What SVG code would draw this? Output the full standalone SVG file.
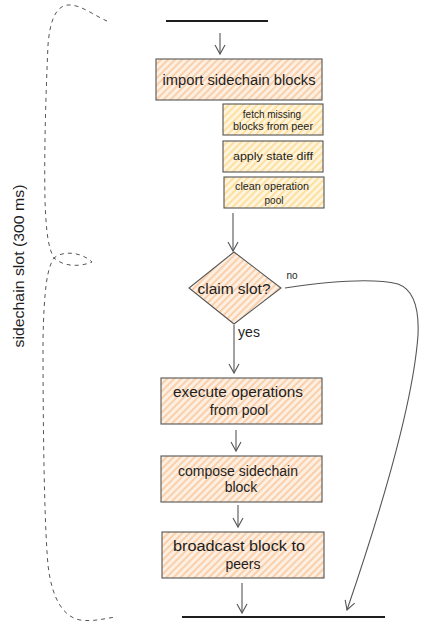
<svg xmlns="http://www.w3.org/2000/svg" width="423" height="626" viewBox="0 0 423 626">
<defs>
<pattern id="hOrange" patternUnits="userSpaceOnUse" width="5" height="5" patternTransform="rotate(45)">
<rect width="5" height="5" fill="#fdefe2"/>
<line x1="1" y1="0" x2="1" y2="5" stroke="#f9bf8e" stroke-width="1.3"/>
</pattern>
<pattern id="hYellow" patternUnits="userSpaceOnUse" width="5" height="5" patternTransform="rotate(45)">
<rect width="5" height="5" fill="#fff5de"/>
<line x1="1" y1="0" x2="1" y2="5" stroke="#fcd47e" stroke-width="1.3"/>
</pattern>
<marker id="arr" markerUnits="userSpaceOnUse" markerWidth="14" markerHeight="14" refX="11" refY="7" orient="auto">
<path d="M2,2 L11,7 L2,12" fill="none" stroke="#555" stroke-width="1.1"/>
</marker>
</defs>
<style>
.box{stroke:#555;stroke-width:1.1}
.o{fill:url(#hOrange)}
.y{fill:url(#hYellow)}
.t{font-family:"Liberation Sans",Arial,sans-serif;font-size:14px;fill:#1e1e1e;text-anchor:middle}
.s{font-family:"Liberation Sans",Arial,sans-serif;font-size:10px;fill:#1e1e1e;text-anchor:middle}
.c{fill:none;stroke:#555;stroke-width:1.1}
.bar{stroke:#1e1e1e;stroke-width:2;fill:none}
</style>

<g id="brace">
<path d="M107,21 C95,16 80,4 68,5 C56,6 50,20 48,45 C46,90 44,150 45,200 C46,230 48,248 54,258 C62,251 80,251 92,262 C80,267 64,267 54,258 C47,268 44,290 43,340 C43,420 44,520 48,565 C52,600 64,617 80,620 C95,622 105,618 117,617" fill="none" stroke="#555" stroke-width="1" stroke-dasharray="4 4"/>
<text class="t" transform="translate(24,266) rotate(-90)" textLength="163" lengthAdjust="spacingAndGlyphs">sidechain slot (300 ms)</text>
</g>

<g id="start-bar"><line class="bar" x1="166" y1="21" x2="268" y2="21"/></g>
<g id="end-bar"><line class="bar" x1="182" y1="617" x2="385" y2="617"/></g>

<g id="import">
<rect class="box o" x="156" y="59" width="166" height="41"/>
<text class="t" x="239" y="85" textLength="153" lengthAdjust="spacingAndGlyphs">import sidechain blocks</text>
</g>
<g id="fetch">
<rect class="box y" x="223" y="104" width="100" height="31"/>
<text class="s" x="272" y="118">fetch missing</text>
<text class="s" x="273" y="130" textLength="80" lengthAdjust="spacingAndGlyphs">blocks from peer</text>
</g>
<g id="apply">
<rect class="box y" x="223" y="141" width="100" height="31"/>
<text class="s" x="273" y="160" textLength="80" lengthAdjust="spacingAndGlyphs">apply state diff</text>
</g>
<g id="clean">
<rect class="box y" x="224" y="177" width="100" height="31"/>
<text class="s" x="272" y="190" textLength="74" lengthAdjust="spacingAndGlyphs">clean operation</text>
<text class="s" x="274" y="204">pool</text>
</g>
<g id="claim">
<path class="box o" d="M234,252 L281,288 L234,324 L189,288 Z"/>
<text class="t" x="234" y="294" textLength="73" lengthAdjust="spacingAndGlyphs">claim slot?</text>
</g>
<g id="execute">
<rect class="box o" x="161" y="378" width="161" height="46"/>
<text class="t" x="238" y="397" textLength="130" lengthAdjust="spacingAndGlyphs">execute operations</text>
<text class="t" x="239" y="415">from pool</text>
</g>
<g id="compose">
<rect class="box o" x="161" y="456" width="161" height="46"/>
<text class="t" x="238" y="476" textLength="120" lengthAdjust="spacingAndGlyphs">compose sidechain</text>
<text class="t" x="241" y="492">block</text>
</g>
<g id="broadcast">
<rect class="box o" x="162" y="532" width="162" height="46"/>
<text class="t" x="239" y="551" textLength="132" lengthAdjust="spacingAndGlyphs">broadcast block to</text>
<text class="t" x="243" y="569">peers</text>
</g>

<g id="connectors">
<line class="c" x1="220" y1="33" x2="220" y2="54" marker-end="url(#arr)"/>
<line class="c" x1="233" y1="213" x2="233" y2="251" marker-end="url(#arr)"/>
<line class="c" x1="234" y1="325" x2="234" y2="373" marker-end="url(#arr)"/>
<line class="c" x1="236" y1="430" x2="236" y2="451" marker-end="url(#arr)"/>
<line class="c" x1="238" y1="505" x2="238" y2="527" marker-end="url(#arr)"/>
<line class="c" x1="242" y1="583" x2="242" y2="613" marker-end="url(#arr)"/>
<path class="c" d="M285,288 Q365,276 398,284 Q420,292 418,335 Q412,420 347,610" marker-end="url(#arr)"/>
<text class="s" x="292" y="279" font-size="11">no</text>
<text class="t" x="249" y="337">yes</text>
</g>
</svg>
